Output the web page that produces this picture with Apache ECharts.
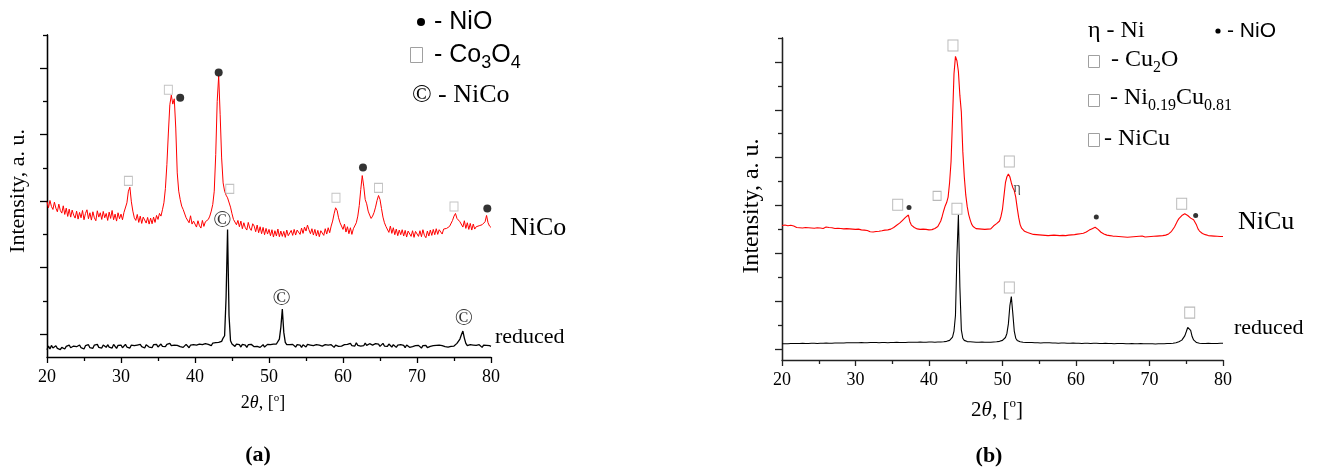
<!DOCTYPE html>
<html><head><meta charset="utf-8">
<script src="https://cdn.jsdelivr.net/npm/echarts@6.0.0/dist/echarts.min.js"></script>
<style>html,body{margin:0;padding:0;background:#fff}#c{width:1317px;height:473px}</style>
</head><body><div id="c"></div>
<script>
// sampling grid of the diffractograms (2θ, degrees)
const angleStart = 20, angleStep = 0.2;
// (a) oxidised NiCo (red)
const nicoOxid = [
3.98,3.80,4.02,3.84,3.75,3.97,3.79,3.68,3.91,3.72,
3.64,3.86,3.60,3.79,3.54,3.76,3.52,3.73,3.58,3.49,
3.70,3.46,3.66,3.50,3.72,3.44,3.63,3.74,3.47,3.65,
3.43,3.68,3.50,3.41,3.71,3.52,3.65,3.45,3.69,3.50,
3.63,3.42,3.67,3.48,3.72,3.44,3.61,3.40,3.65,3.47,
3.61,3.44,3.66,3.70,3.95,4.30,4.42,3.98,3.70,3.50,
3.42,3.60,3.36,3.55,3.33,3.52,3.58,3.34,3.51,3.31,
3.49,3.32,3.52,3.36,3.57,3.45,3.63,3.55,3.74,3.95,
4.38,5.10,6.05,6.90,7.19,6.92,7.08,6.20,4.85,4.30,
4.05,3.85,3.75,3.80,3.50,3.55,3.35,3.56,3.31,3.40,
3.43,3.22,3.41,3.26,3.19,3.42,3.24,3.38,3.43,3.45,
3.55,3.70,3.90,4.30,5.40,7.00,7.77,6.60,5.30,4.55,
4.30,4.18,4.10,4.05,3.82,3.62,3.45,3.44,3.29,3.42,
3.23,3.40,3.17,3.35,3.20,3.13,3.36,3.19,3.12,3.32,
3.25,3.08,3.28,3.05,3.23,3.02,3.21,2.99,3.18,3.01,
3.15,2.96,3.14,2.92,3.11,2.95,3.16,2.93,3.10,2.94,
3.09,2.91,3.13,2.96,2.90,3.12,2.97,3.15,2.98,3.13,
3.17,3.00,3.19,3.03,3.22,3.10,3.28,3.14,3.02,3.17,
2.98,3.15,2.95,3.12,2.93,3.11,3.16,2.97,3.17,3.01,
3.20,3.05,3.25,3.40,3.62,3.80,3.72,3.50,3.35,3.30,
3.15,3.31,3.07,3.23,3.02,3.20,3.00,3.17,3.22,3.35,
3.55,3.87,4.35,4.77,4.45,4.05,3.92,3.70,3.58,3.48,
3.55,3.66,3.82,4.02,4.17,4.05,3.78,3.52,3.35,3.24,
3.22,3.06,3.25,3.03,3.20,2.99,3.16,2.96,3.13,2.99,
3.14,2.95,3.12,2.92,3.10,3.15,2.94,3.11,2.91,3.09,
3.13,2.94,3.11,2.93,3.14,2.97,2.90,3.10,2.95,3.13,
2.97,3.15,2.99,3.17,3.00,3.14,3.19,3.01,3.16,3.12,
3.18,3.16,3.24,3.30,3.42,3.55,3.63,3.48,3.42,3.38,
3.39,3.22,3.41,3.18,3.35,3.15,3.33,3.13,3.31,3.16,
3.23,3.21,3.26,3.22,3.29,3.26,3.38,3.57,3.35,3.25,
3.21];
// (a) reduced NiCo (black)
const nicoReduced = [
-0.47,-0.36,-0.45,-0.34,-0.42,-0.46,-0.35,-0.43,-0.38,-0.47,
-0.40,-0.34,-0.45,-0.37,-0.42,-0.33,-0.41,-0.46,-0.36,-0.42,
-0.38,-0.44,-0.33,-0.41,-0.36,-0.45,-0.35,-0.40,-0.32,-0.41,
-0.36,-0.43,-0.33,-0.39,-0.31,-0.40,-0.35,-0.42,-0.33,-0.38,
-0.40,-0.32,-0.39,-0.34,-0.42,-0.31,-0.37,-0.43,-0.34,-0.39,
-0.33,-0.41,-0.35,-0.31,-0.39,-0.34,-0.42,-0.33,-0.38,-0.35,
-0.40,-0.33,-0.39,-0.31,-0.38,-0.34,-0.42,-0.32,-0.36,-0.39,
-0.34,-0.41,-0.32,-0.38,-0.31,-0.39,-0.34,-0.30,-0.37,-0.33,
-0.38,-0.31,-0.37,-0.28,-0.35,-0.40,-0.33,-0.38,-0.34,-0.31,
-0.38,-0.33,-0.40,-0.34,-0.31,-0.37,-0.41,-0.33,-0.38,-0.32,
-0.37,-0.33,-0.38,-0.30,-0.36,-0.32,-0.37,-0.29,-0.35,-0.31,
-0.30,-0.35,-0.27,-0.33,-0.26,-0.31,-0.25,-0.29,-0.22,-0.12,
-0.05,1.10,3.15,0.55,-0.20,-0.30,-0.34,-0.37,-0.30,-0.36,
-0.32,-0.39,-0.31,-0.37,-0.33,-0.40,-0.32,-0.37,-0.31,-0.36,
-0.38,-0.32,-0.37,-0.33,-0.40,-0.34,-0.32,-0.39,-0.33,-0.31,
-0.37,-0.32,-0.36,-0.30,-0.35,-0.30,-0.27,-0.15,0.20,0.75,
0.05,-0.25,-0.32,-0.36,-0.32,-0.38,-0.31,-0.36,-0.39,-0.32,
-0.37,-0.33,-0.40,-0.32,-0.36,-0.39,-0.31,-0.37,-0.33,-0.39,
-0.35,-0.40,-0.32,-0.37,-0.33,-0.29,-0.36,-0.39,-0.32,-0.37,
-0.33,-0.39,-0.32,-0.36,-0.40,-0.33,-0.29,-0.37,-0.32,-0.36,
-0.38,-0.32,-0.37,-0.31,-0.36,-0.28,-0.35,-0.30,-0.36,-0.26,
-0.34,-0.29,-0.36,-0.30,-0.35,-0.27,-0.34,-0.37,-0.29,-0.24,
-0.33,-0.36,-0.29,-0.35,-0.30,-0.37,-0.32,-0.28,-0.36,-0.31,
-0.37,-0.30,-0.35,-0.39,-0.32,-0.36,-0.40,-0.33,-0.37,-0.32,
-0.38,-0.34,-0.41,-0.33,-0.37,-0.40,-0.34,-0.38,-0.41,-0.35,
-0.39,-0.34,-0.38,-0.42,-0.35,-0.39,-0.34,-0.41,-0.36,-0.37,
-0.40,-0.35,-0.39,-0.34,-0.38,-0.33,-0.39,-0.35,-0.32,-0.38,
-0.34,-0.39,-0.33,-0.37,-0.32,-0.36,-0.30,-0.28,-0.28,-0.15,
-0.02,0.09,-0.12,-0.28,-0.35,-0.38,-0.32,-0.37,-0.33,-0.39,
-0.34,-0.38,-0.32,-0.37,-0.40,-0.33,-0.38,-0.34,-0.39,-0.35,
-0.37];
// (b) oxidised NiCu (red)
const nicuOxid = [
5.16,5.12,5.18,5.10,5.15,5.11,5.17,5.09,5.14,5.12,
5.08,5.13,5.07,5.12,5.06,5.11,5.08,5.13,5.07,5.10,
5.06,5.11,5.05,5.09,5.07,5.12,5.06,5.09,5.04,5.08,
5.10,5.05,5.08,5.03,5.07,5.09,5.04,5.08,5.05,5.07,
5.04,5.08,5.02,5.06,5.03,5.07,5.02,5.05,5.01,5.04,
5.00,4.96,5.01,4.95,4.98,4.93,4.97,4.92,4.95,4.91,
4.90,4.94,4.89,4.93,4.91,4.95,4.92,4.97,4.94,4.98,
4.97,5.00,4.98,5.02,5.01,5.05,5.08,5.12,5.17,5.22,
5.26,5.32,5.38,5.44,5.50,5.56,5.60,5.32,5.18,5.12,
5.08,5.05,5.02,5.04,5.00,4.99,5.01,4.98,5.00,4.99,
4.98,5.00,4.99,5.02,5.04,5.07,5.12,5.20,5.35,5.55,
5.78,5.98,6.12,6.35,6.95,7.84,9.60,11.50,12.23,12.05,
11.60,10.60,9.90,8.26,7.20,6.44,5.95,5.62,5.40,5.22,
5.12,5.06,5.03,5.00,5.02,4.99,5.01,4.98,5.00,5.03,
5.01,5.04,5.02,5.08,5.15,5.22,5.24,5.26,5.35,5.55,
5.85,6.40,6.95,7.20,7.31,7.20,6.95,6.75,6.62,6.35,
5.90,5.50,5.20,5.05,4.97,4.92,4.90,4.87,4.85,4.83,
4.81,4.79,4.82,4.78,4.80,4.77,4.79,4.76,4.78,4.75,
4.77,4.74,4.78,4.75,4.73,4.76,4.72,4.75,4.73,4.74,
4.72,4.75,4.71,4.74,4.73,4.76,4.74,4.77,4.75,4.78,
4.77,4.80,4.79,4.82,4.81,4.84,4.86,4.89,4.93,4.97,
5.00,5.03,5.06,5.09,5.07,5.00,4.93,4.88,4.84,4.81,
4.80,4.76,4.79,4.74,4.77,4.72,4.75,4.71,4.73,4.70,
4.72,4.69,4.71,4.68,4.70,4.67,4.70,4.68,4.71,4.69,
4.67,4.70,4.68,4.71,4.69,4.72,4.70,4.68,4.71,4.69,
4.72,4.70,4.73,4.71,4.74,4.72,4.75,4.73,4.76,4.74,
4.77,4.76,4.79,4.81,4.86,4.92,4.98,5.10,5.22,5.35,
5.45,5.52,5.58,5.62,5.65,5.64,5.58,5.50,5.47,5.44,
5.40,5.33,5.18,5.02,4.93,4.88,4.83,4.80,4.78,4.76,
4.74,4.77,4.73,4.75,4.72,4.74,4.71,4.73,4.70,4.72,
4.70];
// (b) reduced NiCu (black)
const nicuReduced = [
0.22,0.23,0.22,0.23,0.22,0.23,0.23,0.22,0.23,0.23,
0.23,0.22,0.23,0.23,0.24,0.23,0.23,0.24,0.23,0.24,
0.24,0.23,0.24,0.24,0.23,0.24,0.24,0.25,0.24,0.24,
0.25,0.24,0.24,0.25,0.24,0.25,0.25,0.24,0.25,0.25,
0.25,0.26,0.25,0.25,0.26,0.25,0.26,0.25,0.26,0.26,
0.26,0.25,0.26,0.26,0.27,0.26,0.26,0.27,0.26,0.26,
0.27,0.26,0.27,0.26,0.27,0.27,0.26,0.27,0.27,0.26,
0.27,0.27,0.26,0.27,0.27,0.28,0.27,0.27,0.28,0.27,
0.27,0.28,0.27,0.28,0.27,0.28,0.28,0.27,0.28,0.28,
0.28,0.27,0.28,0.28,0.29,0.28,0.28,0.29,0.28,0.28,
0.29,0.28,0.29,0.29,0.28,0.29,0.29,0.30,0.29,0.30,
0.30,0.31,0.32,0.34,0.36,0.40,0.50,0.75,1.40,3.90,
5.61,2.60,0.80,0.45,0.36,0.33,0.31,0.30,0.30,0.29,
0.29,0.29,0.28,0.29,0.28,0.28,0.29,0.28,0.28,0.28,
0.28,0.28,0.28,0.29,0.29,0.29,0.30,0.31,0.32,0.34,
0.36,0.40,0.48,0.65,1.05,1.80,2.19,1.50,0.75,0.45,
0.36,0.32,0.30,0.29,0.28,0.28,0.27,0.27,0.27,0.26,
0.27,0.26,0.26,0.27,0.26,0.26,0.25,0.26,0.26,0.25,
0.26,0.25,0.26,0.25,0.25,0.26,0.25,0.25,0.24,0.25,
0.25,0.24,0.25,0.25,0.24,0.25,0.24,0.24,0.25,0.24,
0.24,0.25,0.24,0.24,0.23,0.24,0.24,0.23,0.24,0.24,
0.23,0.24,0.24,0.23,0.24,0.23,0.23,0.24,0.23,0.23,
0.24,0.23,0.23,0.24,0.23,0.23,0.22,0.23,0.23,0.22,
0.23,0.22,0.23,0.23,0.22,0.23,0.22,0.22,0.23,0.22,
0.22,0.23,0.22,0.22,0.23,0.22,0.22,0.21,0.22,0.22,
0.22,0.21,0.22,0.22,0.21,0.22,0.22,0.21,0.22,0.22,
0.22,0.22,0.23,0.22,0.23,0.23,0.24,0.25,0.26,0.28,
0.30,0.33,0.37,0.43,0.55,0.72,0.90,0.96,0.78,0.52,
0.38,0.31,0.27,0.25,0.24,0.24,0.23,0.24,0.23,0.23,
0.24,0.23,0.23,0.24,0.23,0.24,0.23,0.24,0.24,0.23,
0.24];

// axes
const xRange = [20, 80];
const xTickStep = 10;
const yRangeA = [-0.69, 9], yMajorA = [0, 2, 4, 6, 8], yMinorA = [1, 3, 5, 7, 9];
const yRangeB = [-0.46, 13], yMajorB = [0, 2, 4, 6, 8, 10, 12], yMinorB = [1, 3, 5, 7, 9, 11, 13];

// phase markers [2θ, intensity]
const co3o4MarksA = [[31.0, 4.61], [36.4, 7.35], [44.7, 4.37], [59.05, 4.10], [64.8, 4.40], [75.0, 3.84]];
const nioMarksA = [[38.0, 7.11], [43.2, 7.87], [62.7, 5.01], [79.5, 3.78]];
const nicoMarksA = [[43.7, 3.40], [51.7, 1.05], [76.35, 0.45]];
const squareMarksB = [[35.74, 6.03], [43.26, 12.69], [50.93, 7.84], [74.38, 6.07], [43.8, 5.86], [50.93, 2.57], [75.47, 1.52]];
const smallSquareMarksB = [[41.1, 6.40]];
const nioMarksB = [[37.28, 5.91], [62.76, 5.52], [76.28, 5.58]];
const niMarksB = [[52.0, 6.72]];

const serif = "'Liberation Serif','Times New Roman',serif";
const sans = "'Liberation Sans',Arial,sans-serif";

function pairs(vals) { return vals.map((v, i) => [+(angleStart + i * angleStep).toFixed(2), v]); }

function xAxisCfg(gi, col) {
  return {
    type: 'value', gridIndex: gi, min: xRange[0], max: xRange[1], interval: xTickStep,
    axisLine: { show: true, onZero: false, lineStyle: { color: col, width: 1.3 } },
    axisTick: { show: true, inside: false, length: 6, lineStyle: { color: col, width: 1.3 } },
    minorTick: { show: true, splitNumber: 2, length: 4, lineStyle: { color: col, width: 1.3 } },
    axisLabel: { color: '#000', fontFamily: serif, fontSize: 18, margin: 11 },
    splitLine: { show: false }, minorSplitLine: { show: false }
  };
}
function yAxisCfg(gi, range, ticks, len, col) {
  return {
    type: 'value', gridIndex: gi, position: 'left', offset: 0, min: range[0], max: range[1],
    axisLine: { show: true, onZero: false, lineStyle: { color: col, width: 1.3 } },
    axisTick: { show: true, inside: false, length: len, customValues: ticks, lineStyle: { color: col, width: 1.3 } },
    axisLabel: { show: false }, splitLine: { show: false }
  };
}
function lineSeries(xi, yi, vals, color, w) {
  return { type: 'line', xAxisIndex: xi, yAxisIndex: yi, data: pairs(vals), symbol: 'none', showSymbol: false,
    lineStyle: { color: color, width: w }, itemStyle: { color: color }, z: 2, silent: true };
}
function boxSeries(xi, yi, data, size, border) {
  return { type: 'scatter', xAxisIndex: xi, yAxisIndex: yi, data: data, symbol: 'rect', symbolSize: size,
    itemStyle: { color: '#fff', borderColor: border, borderWidth: 1 }, z: 5, silent: true };
}
function dotSeries(xi, yi, data, size) {
  return { type: 'scatter', xAxisIndex: xi, yAxisIndex: yi, data: data, symbol: 'circle', symbolSize: size,
    itemStyle: { color: '#000' }, z: 5, silent: true };
}
function glyphSeries(xi, yi, data, glyph, fs, col) {
  return { type: 'scatter', xAxisIndex: xi, yAxisIndex: yi, data: data, symbol: 'circle', symbolSize: 1,
    itemStyle: { color: 'rgba(0,0,0,0)' },
    label: { show: true, position: 'inside', formatter: glyph, fontFamily: serif, fontSize: fs, color: col },
    z: 6, silent: true };
}

const T = (x, y, text, font, extra) => Object.assign({ type: 'text', x: x, y: y, z: 10,
  style: Object.assign({ text: text, font: font, fill: '#000', verticalAlign: 'middle', align: 'left' }, extra || {}) });

const subRich = (fs, sfs, fam, pad) => ({
  t: { fontSize: fs, fontFamily: fam, fill: '#000' },
  s: { fontSize: sfs, fontFamily: fam, fill: '#000', padding: [pad, 0, 0, 0] }
});

const graphics = [
  // panel (a) legend
  { type: 'circle', z: 10, shape: { cx: 421, cy: 22, r: 4 }, style: { fill: '#000' } },
  T(434, 22, '- NiO', '25px ' + sans),
  { type: 'rect', z: 10, shape: { x: 410.5, y: 47.5, width: 12, height: 15 }, style: { fill: 'none', stroke: '#a0a0a0', lineWidth: 1 } },
  T(434, 55, '{t|- Co}{s|3}{t|O}{s|4}', '25px ' + sans, { rich: subRich(25, 18, sans, 17) }),
  T(422, 95, '©', '26px ' + serif, { align: 'center' }),
  T(438, 95, '- NiCo', '26px ' + serif),
  T(510, 228, 'NiCo', '26px ' + serif),
  T(495, 337, 'reduced', '22px ' + serif),
  T(18, 191, 'Intensity, a. u.', '22px ' + serif, { align: 'center' }),
  T(258, 455, '(a)', 'bold 22px ' + serif, { align: 'center' }),
  // panel (b) legend
  T(1088, 31, 'η - Ni', '24px ' + serif),
  { type: 'circle', z: 10, shape: { cx: 1218, cy: 31, r: 2.6 }, style: { fill: '#000' } },
  T(1227, 31, '- NiO', '21px ' + sans),
  { type: 'rect', z: 10, shape: { x: 1088.5, y: 55.5, width: 11, height: 12 }, style: { fill: 'none', stroke: '#a0a0a0', lineWidth: 1 } },
  T(1111, 60, '{t|- Cu}{s|2}{t|O}', '24px ' + serif, { rich: subRich(24, 16, serif, 15) }),
  { type: 'rect', z: 10, shape: { x: 1088.5, y: 94.5, width: 11, height: 12 }, style: { fill: 'none', stroke: '#a0a0a0', lineWidth: 1 } },
  T(1110, 98, '{t|- Ni}{s|0.19}{t|Cu}{s|0.81}', '24px ' + serif, { rich: subRich(24, 16, serif, 15) }),
  { type: 'rect', z: 10, shape: { x: 1088.5, y: 133.5, width: 11, height: 13 }, style: { fill: 'none', stroke: '#a0a0a0', lineWidth: 1 } },
  T(1104, 139, '- NiCu', '24px ' + serif),
  T(1238, 222, 'NiCu', '26px ' + serif),
  T(1234, 328, 'reduced', '22px ' + serif),
  T(752, 206, 'Intensity, a. u.', '24px ' + serif, { align: 'center' }),
  T(989, 456, '(b)', 'bold 22px ' + serif, { align: 'center' })
];
// rotate y titles
graphics[8].rotation = Math.PI / 2;
graphics[21].rotation = Math.PI / 2;

const xTitleRich = (fs) => ({
  n: { fontSize: fs, fontFamily: serif, fill: '#000' },
  i: { fontSize: fs, fontFamily: serif, fontStyle: 'italic', fill: '#000' },
  p: { fontSize: Math.round(fs * 0.6), fontFamily: serif, fill: '#000', padding: [0, 0, Math.round(fs * 0.55), 0] }
});
graphics.push(T(263, 403, '{n|2}{i|θ}{n|, [}{p|o}{n|]}', '18px ' + serif, { align: 'center', rich: xTitleRich(18) }));
graphics.push(T(997, 410, '{n|2}{i|θ}{n|, [}{p|o}{n|]}', '21px ' + serif, { align: 'center', rich: xTitleRich(21) }));

const option = {
  animation: false,
  backgroundColor: '#fff',
  grid: [
    { left: 47, top: 35, width: 444, height: 322, containLabel: false },
    { left: 782, top: 38, width: 441, height: 322, containLabel: false }
  ],
  xAxis: [xAxisCfg(0, '#000'), xAxisCfg(1, '#222')],
  yAxis: [
    yAxisCfg(0, yRangeA, yMajorA, 7, '#000'),
    yAxisCfg(0, yRangeA, yMinorA, 4, '#000'),
    yAxisCfg(1, yRangeB, yMajorB, 7, '#222'),
    yAxisCfg(1, yRangeB, yMinorB, 4, '#222')
  ],
  series: [
    lineSeries(0, 0, nicoReduced, '#000', 1.3),
    lineSeries(0, 0, nicoOxid, '#ff0000', 1),
    boxSeries(0, 0, co3o4MarksA, [8, 9], '#b4b4b4'),
    dotSeries(0, 0, nioMarksA, 8),
    glyphSeries(0, 0, nicoMarksA, '©', 24, '#000'),
    lineSeries(1, 2, nicuReduced, '#000', 1.1),
    lineSeries(1, 2, nicuOxid, '#ff0000', 1.1),
    boxSeries(1, 2, squareMarksB, [10, 11], '#a8a8a8'),
    boxSeries(1, 2, smallSquareMarksB, [8, 9], '#a8a8a8'),
    dotSeries(1, 2, nioMarksB, 5),
    glyphSeries(1, 2, niMarksB, 'η', 14, '#222')
  ],
  graphic: graphics
};
const chart = echarts.init(document.getElementById('c'), null, { renderer: 'canvas' });
chart.setOption(option);
</script>
</body></html>
